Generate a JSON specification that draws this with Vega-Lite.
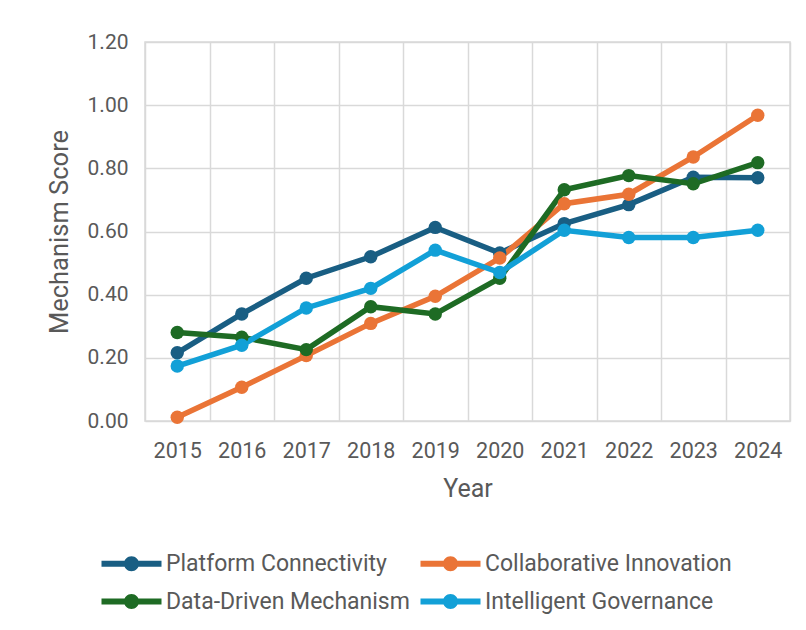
{
  "$schema": "https://vega.github.io/schema/vega-lite/v6.json",
  "width": 645,
  "height": 379,
  "autosize": {"type": "none"},
  "padding": {"left": 145, "top": 42, "right": 16, "bottom": 209},
  "background": "white",
  "config": {
    "font": "Roboto",
    "view": {"stroke": "#d9d9d9", "strokeWidth": 1.5},
    "axis": {
      "labelColor": "#595959",
      "titleColor": "#595959",
      "labelFont": "Roboto",
      "titleFont": "Roboto",
      "titleFontWeight": "normal",
      "gridColor": "#d9d9d9",
      "gridWidth": 1.5,
      "domain": false,
      "ticks": false,
      "tickSize": 0
    },
    "legend": {
      "labelColor": "#595959",
      "labelFont": "Roboto"
    }
  },
  "data": {
    "values": [
      {"Year": "2015", "Series": "Platform Connectivity", "Score": 0.216},
      {"Year": "2016", "Series": "Platform Connectivity", "Score": 0.339},
      {"Year": "2017", "Series": "Platform Connectivity", "Score": 0.452},
      {"Year": "2018", "Series": "Platform Connectivity", "Score": 0.520},
      {"Year": "2019", "Series": "Platform Connectivity", "Score": 0.613},
      {"Year": "2020", "Series": "Platform Connectivity", "Score": 0.532},
      {"Year": "2021", "Series": "Platform Connectivity", "Score": 0.625},
      {"Year": "2022", "Series": "Platform Connectivity", "Score": 0.685},
      {"Year": "2023", "Series": "Platform Connectivity", "Score": 0.772},
      {"Year": "2024", "Series": "Platform Connectivity", "Score": 0.770},
      {"Year": "2015", "Series": "Collaborative Innovation", "Score": 0.012},
      {"Year": "2016", "Series": "Collaborative Innovation", "Score": 0.107},
      {"Year": "2017", "Series": "Collaborative Innovation", "Score": 0.207},
      {"Year": "2018", "Series": "Collaborative Innovation", "Score": 0.309},
      {"Year": "2019", "Series": "Collaborative Innovation", "Score": 0.395},
      {"Year": "2020", "Series": "Collaborative Innovation", "Score": 0.516},
      {"Year": "2021", "Series": "Collaborative Innovation", "Score": 0.688},
      {"Year": "2022", "Series": "Collaborative Innovation", "Score": 0.718},
      {"Year": "2023", "Series": "Collaborative Innovation", "Score": 0.836},
      {"Year": "2024", "Series": "Collaborative Innovation", "Score": 0.968},
      {"Year": "2015", "Series": "Data-Driven Mechanism", "Score": 0.280},
      {"Year": "2016", "Series": "Data-Driven Mechanism", "Score": 0.265},
      {"Year": "2017", "Series": "Data-Driven Mechanism", "Score": 0.226},
      {"Year": "2018", "Series": "Data-Driven Mechanism", "Score": 0.362},
      {"Year": "2019", "Series": "Data-Driven Mechanism", "Score": 0.339},
      {"Year": "2020", "Series": "Data-Driven Mechanism", "Score": 0.452},
      {"Year": "2021", "Series": "Data-Driven Mechanism", "Score": 0.732},
      {"Year": "2022", "Series": "Data-Driven Mechanism", "Score": 0.777},
      {"Year": "2023", "Series": "Data-Driven Mechanism", "Score": 0.751},
      {"Year": "2024", "Series": "Data-Driven Mechanism", "Score": 0.818},
      {"Year": "2015", "Series": "Intelligent Governance", "Score": 0.174},
      {"Year": "2016", "Series": "Intelligent Governance", "Score": 0.240},
      {"Year": "2017", "Series": "Intelligent Governance", "Score": 0.358},
      {"Year": "2018", "Series": "Intelligent Governance", "Score": 0.420},
      {"Year": "2019", "Series": "Intelligent Governance", "Score": 0.541},
      {"Year": "2020", "Series": "Intelligent Governance", "Score": 0.470},
      {"Year": "2021", "Series": "Intelligent Governance", "Score": 0.604},
      {"Year": "2022", "Series": "Intelligent Governance", "Score": 0.581},
      {"Year": "2023", "Series": "Intelligent Governance", "Score": 0.581},
      {"Year": "2024", "Series": "Intelligent Governance", "Score": 0.604}
    ]
  },
  "encoding": {
    "x": {
      "field": "Year",
      "type": "ordinal",
      "bandPosition": 0.5,
      "scale": {"type": "band", "paddingInner": 0, "paddingOuter": 0},
      "axis": {
        "title": "Year",
        "labelAngle": 0,
        "labelFontSize": 21.5,
        "titleFontSize": 25,
        "labelPadding": 19,
        "titlePadding": 15,
        "grid": true,
        "tickBand": "extent"
      }
    },
    "y": {
      "field": "Score",
      "type": "quantitative",
      "scale": {"domain": [0, 1.2]},
      "axis": {
        "title": "Mechanism Score",
        "values": [0, 0.2, 0.4, 0.6, 0.8, 1.0, 1.2],
        "format": ".2f",
        "labelFontSize": 21,
        "titleFontSize": 25.5,
        "labelPadding": 17,
        "titlePadding": 15
      }
    },
    "color": {
      "field": "Series",
      "type": "nominal",
      "scale": {
        "domain": ["Platform Connectivity", "Collaborative Innovation", "Data-Driven Mechanism", "Intelligent Governance"],
        "range": ["#195e83", "#ea7436", "#1e6b24", "#12a0d7"]
      },
      "legend": {
        "title": null,
        "orient": "none",
        "legendX": -45,
        "legendY": 510,
        "direction": "horizontal",
        "columns": 2,
        "columnPadding": 9,
        "rowPadding": 14,
        "labelFontSize": 23,
        "labelLimit": 0,
        "labelOffset": 43,
        "symbolType": "M-1,-0.3H5V0.3H-1Z M2.75,0A0.75,0.75 0 1,1 1.25,0A0.75,0.75 0 1,1 2.75,0Z",
        "symbolSize": 400,
        "symbolStrokeWidth": 0,
        "encode": {
          "symbols": {"update": {"fill": {"scale": "color", "field": "value"}, "strokeWidth": {"value": 0}, "opacity": {"value": 1}}}
        }
      }
    }
  },
  "layer": [
    {"mark": {"type": "line", "strokeWidth": 5.5}},
    {"mark": {"type": "circle", "size": 180, "opacity": 1}}
  ]
}
